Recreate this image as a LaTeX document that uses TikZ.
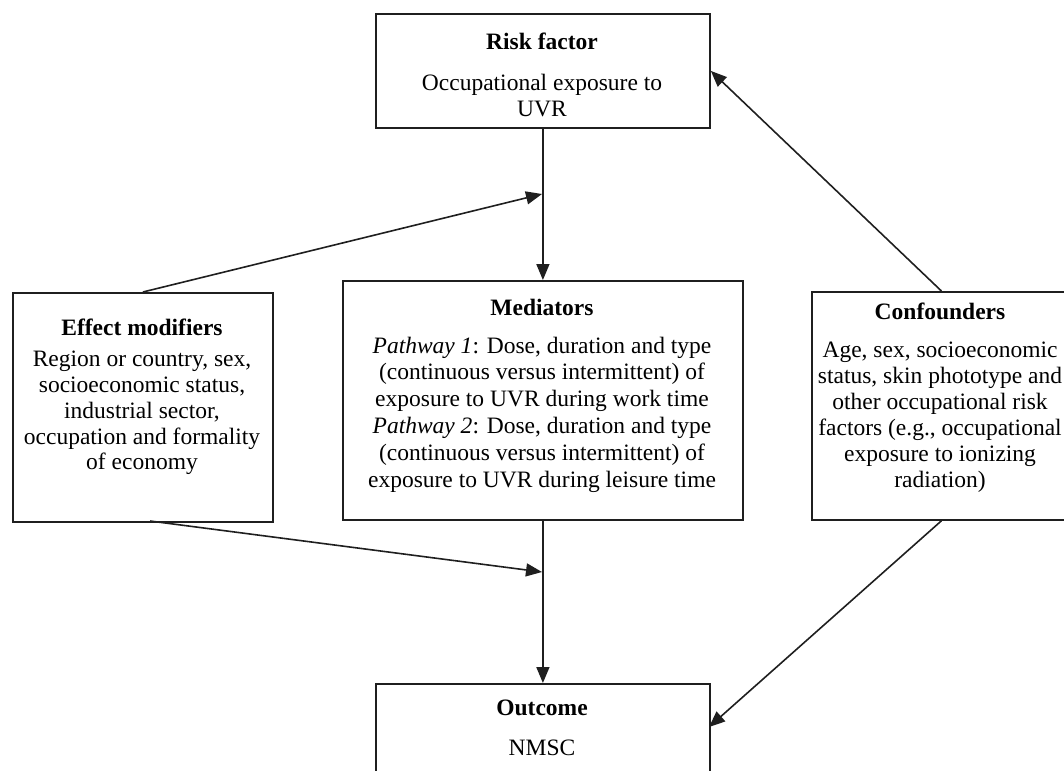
\documentclass[tikz,border=0pt]{standalone}
\usepackage{fontspec}
\setmainfont{Liberation Serif}
\usetikzlibrary{arrows.meta,calc}
\begin{document}
\begin{tikzpicture}[x=1pt,y=-1pt,
  box/.style={draw=black!88, line width=1.8pt, inner sep=0pt, anchor=north west},
  ttl/.style={font=\fontsize{23.5}{26}\selectfont\bfseries, inner sep=0pt, anchor=center},
  body/.style={font=\fontsize{23.5}{#1}\selectfont, align=center, inner sep=0pt, anchor=center},
  conn/.style={draw=black!88, line width=1.6pt, -{Triangle[length=16pt,width=13pt]}}]
\useasboundingbox (0,0) rectangle (1064,770);
\clip (0,0) rectangle (1064,770);
% boxes
\node[box, minimum width=334pt, minimum height=114pt] (rf) at (375,13) {};
\node[box, minimum width=260pt, minimum height=229pt] (em) at (12,292) {};
\node[box, minimum width=400pt, minimum height=239pt] (med) at (342,280) {};
\node[box, minimum width=259pt, minimum height=228pt] (cf) at (811,291) {};
\node[box, minimum width=334pt, minimum height=120pt] (oc) at (375,683) {};
% texts
\node[ttl] (rft) at (542,41) {Risk factor};
\node[body=25.8] (rfb) at (542,95.5) {Occupational exposure to\\UVR};
\node[ttl] (emt) at (142,327) {Effect modifiers};
\node[body=25.8] (emb) at (142,413) {Region or country, sex,\\socioeconomic status,\\industrial sector,\\occupation and formality\\of economy};
\node[ttl] (medt) at (542,307) {Mediators};
\node[body=26.8] (medb) at (542,414.5) {\textit{Pathway 1}: Dose, duration and type\\(continuous versus intermittent) of\\exposure to UVR during work time\\\textit{Pathway 2}: Dose, duration and type\\(continuous versus intermittent) of\\exposure to UVR during leisure time};
\node[ttl] (cft) at (940,311) {Confounders};
\node[body=26] (cfb) at (940,417) {Age, sex, socioeconomic\\status, skin phototype and\\other occupational risk\\factors (e.g., occupational\\exposure to ionizing\\radiation)};
\node[ttl] (oct) at (542,708) {Outcome};
\node[body=26] (ocb) at (542,748) {NMSC};
% free ends
\coordinate (p1) at (542,194);
\coordinate (p2) at (542,572);
\coordinate (p3) at (709,727);
\coordinate (emb1) at (150,521);
% connectors
\draw[conn] (rf.south) -- (med.north);
\draw[conn] (em.north) -- (p1);
\draw[conn] (cf.north) -- (rf.east);
\draw[conn] (med.south) -- (oc.north);
\draw[conn] (emb1) -- (p2);
\draw[conn] (cf.south) -- (p3);
\end{tikzpicture}
\end{document}
